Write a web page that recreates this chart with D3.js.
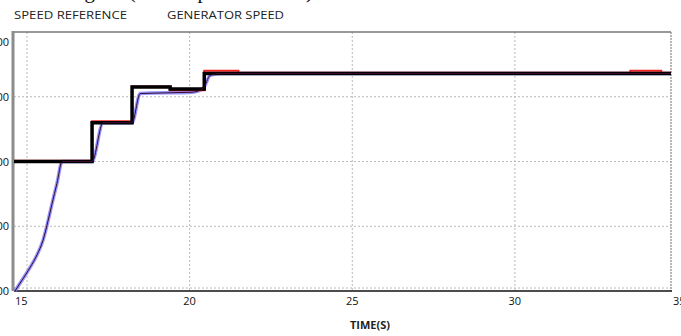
<!DOCTYPE html>
<html>
<head>
<meta charset="utf-8">
<script src="https://cdn.jsdelivr.net/npm/d3@7"></script>
<style>
  body { margin: 0; background: #fff; overflow: hidden; }
  svg { display: block; }
  .tick-text { font-family: "Open Sans", "Liberation Sans", sans-serif; font-size: 11px; fill: #111; }
  .legend-text { font-family: "Open Sans", "Liberation Sans", sans-serif; font-size: 11px; fill: #222; }
</style>
</head>
<body>
<div id="chart"></div>
<script>
// time axis (s) and speed axis (rpm, labels are cropped in the original)
const xTicks = [15, 20, 25, 30, 35];
const yTicks = [1000, 1100, 1200, 1300, 1400];
const legendLabels = ["SPEED REFERENCE", "GENERATOR SPEED"];

// thick black step
const stepTime  = [14.6, 17.0, 18.23, 19.4, 20.45, 34.8];
const stepSpeed = [1200, 1260, 1315, 1312, 1336, 1336];

// red speed reference
const refTime  = [14.6, 17.0, 18.23, 19.4, 20.45, 21.5, 33.55, 34.5, 34.8];
const refSpeed = [1201, 1262, 1316, 1310, 1340, 1337, 1340, 1337, 1337];

// generator speed (blue + dark trace)
const genTime  = [14.63, 14.85, 15.09, 15.31, 15.49, 15.65, 15.77, 15.92, 16.08,
                  17.0, 17.34, 18.23, 18.48, 20.08, 20.42, 20.63, 20.94, 34.8];
const genSpeed = [1000, 1017, 1036, 1056, 1078, 1109, 1135, 1166, 1200,
                  1200, 1260, 1260, 1305, 1307, 1313, 1333, 1336, 1336];

const W = 681, H = 336;
const plot = { left: 14, right: 671, top: 32, bottom: 291 };

const x = d3.scaleLinear().domain([14.6, 34.8]).range([plot.left, plot.right]);
const y = d3.scaleLinear().domain([1000, 1400]).range([plot.bottom, plot.top]);

const svg = d3.select("#chart").append("svg")
  .attr("width", W)
  .attr("height", H);

// caption of the page above, cut off at the top edge
const cap = svg.append("text")
  .attr("y", -2)
  .attr("font-family", "Liberation Serif, serif")
  .attr("font-size", 21)
  .attr("fill", "#111");
cap.append("tspan").attr("x", 95).attr("text-anchor", "end").text("Simulated tracking");
cap.append("tspan").attr("x", 106).text("of (as the speed of rotor)");

// legend
svg.selectAll(".legend-text")
  .data(legendLabels)
  .join("text")
    .attr("class", "legend-text")
    .attr("x", (d, i) => i === 0 ? 14 : 167)
    .attr("y", 19)
    .attr("textLength", (d, i) => i === 0 ? 113 : 117)
    .attr("lengthAdjust", "spacingAndGlyphs")
    .text(d => d);

// grid
const grid = svg.append("g")
  .attr("stroke", "#b8b8b8")
  .attr("stroke-width", 1)
  .attr("stroke-dasharray", "2,2");

grid.selectAll("line.v")
  .data(xTicks.filter(d => x(d) < plot.right))
  .join("line")
    .attr("class", "v")
    .attr("x1", d => x(d)).attr("x2", d => x(d))
    .attr("y1", plot.top).attr("y2", plot.bottom);

grid.selectAll("line.h")
  .data(yTicks.slice(0, 4))
  .join("line")
    .attr("class", "h")
    .attr("x1", plot.left).attr("x2", plot.right)
    .attr("y1", d => y(d) - (d === yTicks[0] ? 3 : 0))
    .attr("y2", d => y(d) - (d === yTicks[0] ? 3 : 0));

// frame
svg.append("line")
  .attr("x1", plot.left).attr("x2", plot.right)
  .attr("y1", plot.top).attr("y2", plot.top)
  .attr("stroke", "#777").attr("stroke-width", 1.5);
svg.append("line")
  .attr("x1", plot.right).attr("x2", plot.right)
  .attr("y1", plot.top).attr("y2", plot.bottom)
  .attr("stroke", "#888").attr("stroke-width", 1.2)
  .attr("stroke-dasharray", "2,1");
svg.append("line")
  .attr("x1", plot.left).attr("x2", plot.right + 1)
  .attr("y1", plot.bottom).attr("y2", plot.bottom)
  .attr("stroke", "#111").attr("stroke-width", 1.5);
svg.append("line")
  .attr("x1", plot.left - 1).attr("x2", plot.left - 1)
  .attr("y1", plot.top - 1).attr("y2", plot.bottom)
  .attr("stroke", "#8c8c8c").attr("stroke-width", 3);

// tick labels (first and last are pushed to the frame edges like the original)
svg.selectAll(".xlab")
  .data(xTicks)
  .join("text")
    .attr("class", "tick-text xlab")
    .attr("x", (d, i) => i === 0 ? plot.left + 1 : (i === xTicks.length - 1 ? plot.right + 2 : x(d)))
    .attr("y", 305)
    .attr("text-anchor", (d, i) => (i === 0 || i === xTicks.length - 1) ? "start" : "middle")
    .text(d => d);

svg.selectAll(".ylab")
  .data(yTicks)
  .join("text")
    .attr("class", "tick-text ylab")
    .attr("x", 9)
    .attr("y", d => d === yTicks[4] ? y(d) + 14 : y(d) + 4)
    .attr("text-anchor", "end")
    .attr("font-size", 12)
    .text(d => d);

svg.append("text")
  .attr("x", 370)
  .attr("y", 329)
  .attr("text-anchor", "middle")
  .attr("font-family", "Open Sans, Liberation Sans, sans-serif")
  .attr("font-size", 11)
  .attr("font-weight", "bold")
  .attr("fill", "#222")
  .text("TIME(S)");

// series
const zip = (ts, vs) => ts.map((t, i) => [t, vs[i]]);

const lineStep = d3.line().x(d => x(d[0])).y(d => y(d[1])).curve(d3.curveStepAfter);
const lineGen = d3.line().x(d => x(d[0])).y(d => y(d[1])).curve(d3.curveMonotoneX);

svg.append("path")
  .datum(zip(genTime, genSpeed))
  .attr("fill", "none")
  .attr("stroke", "#7070ff")
  .attr("stroke-opacity", 0.75)
  .attr("stroke-width", 3.5)
  .attr("d", lineGen);

svg.append("path")
  .datum(zip(refTime, refSpeed))
  .attr("fill", "none")
  .attr("stroke", "#ee2222")
  .attr("stroke-width", 2)
  .attr("d", lineStep);

svg.append("path")
  .datum(zip(stepTime, stepSpeed))
  .attr("fill", "none")
  .attr("stroke", "#000")
  .attr("stroke-width", 3.5)
  .attr("d", lineStep);

svg.append("path")
  .datum(zip(genTime, genSpeed))
  .attr("fill", "none")
  .attr("stroke", "#3a0a30")
  .attr("stroke-width", 1)
  .attr("d", lineGen);
</script>
</body>
</html>
